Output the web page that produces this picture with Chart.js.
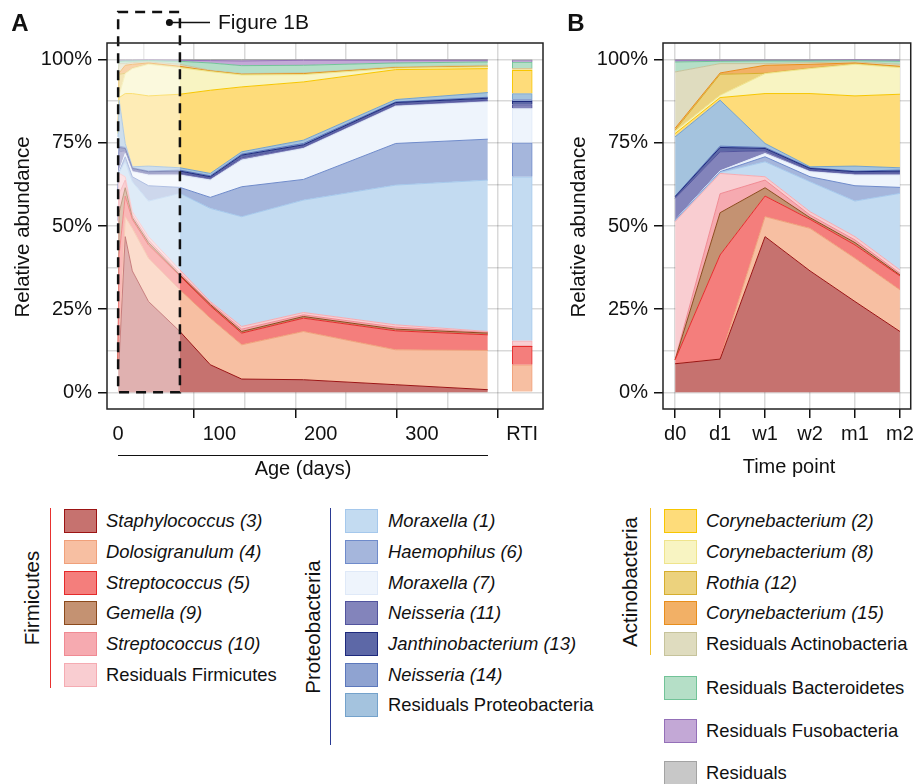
<!DOCTYPE html>
<html>
<head>
<meta charset="utf-8">
<script src="https://cdn.jsdelivr.net/npm/chart.js@4.4.1/dist/chart.umd.min.js"></script>
<style>
  body { margin: 0; background: #fff; font-family: "Liberation Sans", Arial, sans-serif; color: #111; }
  #wrap { position: relative; width: 918px; height: 784px; overflow: hidden; }
  canvas { position: absolute; top: 0; }
  .t { position: absolute; white-space: nowrap; font-size: 20px; line-height: 1; }
  .c { transform: translate(-50%, -50%); }
  .v { transform: translate(-50%, -50%) rotate(-90deg); }
  .sw { position: absolute; width: 33px; height: 24px; box-sizing: border-box; border: 1.5px solid; }
  .lg { position: absolute; font-size: 18.4px; line-height: 1; transform: translateY(-50%); white-space: nowrap; }
</style>
</head>
<body>
<div id="wrap">
  <canvas id="chartA" width="560" height="480" style="left:0"></canvas>
  <canvas id="chartB" width="358" height="480" style="left:560px"></canvas>
</div>
<script>
// sampling ages (days); d0..m2 of panel B are the first six samples
const ages = [0, 1, 7, 14, 30, 61, 91, 122, 183, 274, 365];
const timePoints = ['d0', 'd1', 'w1', 'w2', 'm1', 'm2'];
const rtiAge = 399;
const ageTicks = [0, 100, 200, 300];
const pctTicks = [0, 25, 50, 75, 100];

// relative abundance (%) per sample, bottom to top of the stack
const staphylococcus3   = [8.6, 10.0, 46.8, 36.5, 27.3, 18.3, 8.3, 4.0, 3.8, 2.3, 0.8];
const dolosigranulum4   = [0, 0, 6.0, 12.8, 13.0, 12.5, 14.0, 10.3, 14.5, 10.5, 11.8];
const streptococcus5    = [1.2, 31.3, 6.2, 2.7, 4.0, 4.2, 3.7, 3.5, 4.0, 5.7, 4.7];
const gemella9          = [0, 12.7, 2.5, 0.5, 0.7, 0.3, 0.4, 0.5, 0.5, 0.5, 0.5];
const streptococcus10   = [0.1, 5.7, 2.3, 0.8, 0.8, 0.5, 0.4, 0.7, 0.5, 0.6, 0.2];
const residFirmicutes   = [41.4, 6.1, 1.0, 1.0, 1.0, 1.0, 0.5, 0.8, 0.7, 0.7, 0.3];
const moraxella1        = [0.2, 0.3, 4.5, 9.0, 10.7, 23.0, 28.0, 33.0, 33.8, 42.0, 45.5];
const haemophilus6      = [0.2, 0.2, 1.5, 1.5, 4.6, 1.8, 3.3, 9.0, 6.2, 12.5, 12.3];
const moraxella7        = [0.1, 0.3, 1.0, 1.5, 3.2, 3.7, 5.2, 8.0, 9.3, 11.2, 11.2];
const neisseria11       = [6.5, 5.7, 0.8, 0.5, 0.5, 0.6, 0.5, 0.7, 0.5, 0.5, 0.5];
const janthinobacterium13 = [0.5, 1.3, 0.7, 0.5, 0.5, 0.6, 0.5, 0.8, 0.6, 0.6, 0.6];
const neisseria14       = [0.2, 0.4, 0.3, 0.2, 0.2, 0.3, 0.3, 0.3, 0.4, 0.2, 0.3];
const residProteo       = [17.8, 13.8, 1.2, 0.3, 1.5, 0.7, 0.7, 0.7, 1.0, 0.7, 1.4];
const corynebacterium2  = [1.0, 0.8, 15.0, 22.0, 21.1, 22.1, 25.0, 19.5, 17.5, 9.0, 7.2];
const corynebacterium8  = [0.7, 0.7, 6.0, 7.5, 9.5, 8.0, 5.6, 3.6, 2.2, 0.4, 0.5];
const rothia12          = [0.3, 6.3, 0.1, 0.1, 0.1, 0.1, 0.1, 0.1, 0.1, 0.1, 0.1];
const corynebacterium15 = [0.6, 0.4, 2.4, 1.2, 0.3, 0.3, 0.1, 0.1, 0.2, 0.1, 0.1];
const residActino       = [16.9, 2.8, 0.5, 0.5, 0.3, 0.6, 0.2, 0.2, 0.2, 0.2, 0.3];
const residBacteroidetes = [3.0, 0.7, 0.8, 0.5, 0.4, 0.9, 2.2, 2.4, 2.3, 1.2, 1.0];
const residFusobacteria = [0.5, 0.3, 0.2, 0.2, 0.2, 0.3, 0.7, 1.4, 1.5, 0.8, 0.5];
const residuals         = [0.2, 0.2, 0.2, 0.2, 0.1, 0.2, 0.3, 0.4, 0.2, 0.2, 0.2];

// RTI column, same series order
const rtiValues = [0, 8.3, 5.5, 0.1, 0.1, 1.5, 49.3, 10.2, 10.3, 1.2, 1.0, 0.5, 1.8, 7.0, 0.2, 0, 0.2, 0.1, 2.0, 0.4, 0.3];

const series = [
  { name: 'Staphylococcus (3)', values: staphylococcus3, fill: '#c6726f', line: '#9c1414', it: true },
  { name: 'Dolosigranulum (4)', values: dolosigranulum4, fill: '#f7bfa2', line: '#f0a07a', it: true },
  { name: 'Streptococcus (5)', values: streptococcus5, fill: '#f47e7c', line: '#e52b2b', it: true },
  { name: 'Gemella (9)', values: gemella9, fill: '#c49272', line: '#8c4a1c', it: true },
  { name: 'Streptococcus (10)', values: streptococcus10, fill: '#f6aab0', line: '#f08a93', it: true },
  { name: 'Residuals Firmicutes', values: residFirmicutes, fill: '#f9cdd1', line: '#f5abb2' },
  { name: 'Moraxella (1)', values: moraxella1, fill: '#c3dbf1', line: '#a5c8ec', it: true },
  { name: 'Haemophilus (6)', values: haemophilus6, fill: '#a5b6dc', line: '#6f8bcb', it: true },
  { name: 'Moraxella (7)', values: moraxella7, fill: '#eef4fc', line: '#dfe9f8', it: true },
  { name: 'Neisseria (11)', values: neisseria11, fill: '#8384bb', line: '#52549e', it: true },
  { name: 'Janthinobacterium (13)', values: janthinobacterium13, fill: '#5d68a7', line: '#1e2a7d', it: true },
  { name: 'Neisseria (14)', values: neisseria14, fill: '#8fa3d1', line: '#5c78bc', it: true },
  { name: 'Residuals Proteobacteria', values: residProteo, fill: '#a4c3de', line: '#74a2cb' },
  { name: 'Corynebacterium (2)', values: corynebacterium2, fill: '#fedc7a', line: '#f7c600', it: true },
  { name: 'Corynebacterium (8)', values: corynebacterium8, fill: '#f8f4c2', line: '#efe48c', it: true },
  { name: 'Rothia (12)', values: rothia12, fill: '#ecd27d', line: '#d6ae2e', it: true },
  { name: 'Corynebacterium (15)', values: corynebacterium15, fill: '#f2b066', line: '#e88e1c', it: true },
  { name: 'Residuals Actinobacteria', values: residActino, fill: '#dfdcbf', line: '#c6c39b' },
  { name: 'Residuals Bacteroidetes', values: residBacteroidetes, fill: '#b5dfc7', line: '#72c398' },
  { name: 'Residuals Fusobacteria', values: residFusobacteria, fill: '#c3a8d6', line: '#9470b8' },
  { name: 'Residuals', values: residuals, fill: '#c8c8c8', line: '#a3a3a3' }
];

const FONT = '"Liberation Sans", Arial, sans-serif';
const gridColor = 'rgba(0,0,0,0.15)';

function areaDatasets(xs) {
  return series.map((s, i) => ({
    type: 'line',
    label: s.name,
    data: xs.map((x, j) => ({ x: x, y: s.values[j] })),
    backgroundColor: s.fill,
    borderColor: s.line,
    borderWidth: 1,
    pointRadius: 0,
    tension: 0,
    fill: i === 0 ? 'origin' : '-1'
  }));
}

const frame = {
  id: 'frame',
  afterDraw(chart) {
    const a = chart.chartArea, ctx = chart.ctx;
    ctx.save();
    ctx.strokeStyle = '#222';
    ctx.lineWidth = 1.5;
    ctx.strokeRect(a.left, a.top, a.right - a.left, a.bottom - a.top);
    ctx.restore();
  }
};

// faded, dashed window over the first two months (shown in panel B)
const zoomBox = {
  id: 'zoomBox',
  afterDatasetsDraw(chart) {
    const x = chart.scales.x, y = chart.scales.y, ctx = chart.ctx;
    ctx.save();
    ctx.fillStyle = 'rgba(255,255,255,0.45)';
    ctx.fillRect(x.getPixelForValue(0), chart.chartArea.top, x.getPixelForValue(61) - x.getPixelForValue(0), y.getPixelForValue(0) - chart.chartArea.top);
    ctx.restore();
  },
  afterDraw(chart) {
    const x = chart.scales.x, y = chart.scales.y, ctx = chart.ctx;
    const x0 = x.getPixelForValue(0), x1 = x.getPixelForValue(61), yb = y.getPixelForValue(0);
    ctx.save();
    ctx.strokeStyle = '#111';
    ctx.lineWidth = 2.5;
    ctx.setLineDash([10, 7]);
    ctx.strokeRect(x0, 12, x1 - x0, yb - 12);
    ctx.setLineDash([]);
    ctx.lineWidth = 1.5;
    ctx.beginPath();
    ctx.moveTo(x1 - 10, 22.5);
    ctx.lineTo(210, 22.5);
    ctx.stroke();
    ctx.fillStyle = '#111';
    ctx.beginPath();
    ctx.arc(x1 - 10.5, 22.5, 3.5, 0, Math.PI * 2);
    ctx.fill();
    ctx.font = '21px ' + FONT;
    ctx.textBaseline = 'middle';
    ctx.fillText('Figure 1B', 218, 23);
    ctx.restore();
  }
};

function yScale(width) {
  return {
    stacked: true, min: -5, max: 105, z: 1,
    afterBuildTicks: s => { s.ticks = [0, 12.5, 25, 37.5, 50, 62.5, 75, 87.5, 100].map(v => ({ value: v })); },
    afterFit: s => { s.width = width; },
    ticks: {
      autoSkip: false, padding: 6, color: '#111',
      font: { size: 20, family: FONT },
      callback: v => pctTicks.includes(v) ? v + '%' : ''
    },
    grid: {
      color: gridColor, lineWidth: 1.5, tickLength: 9, tickWidth: 1.5,
      tickColor: c => (c.tick && pctTicks.includes(c.tick.value)) ? '#111' : 'rgba(0,0,0,0)'
    },
    border: { display: false }
  };
}

// panel A: age in days + RTI column
const rtiDatasets = series.map((s, i) => ({
  type: 'bar',
  label: s.name + ' RTI',
  stack: 'rti',
  data: [{ x: rtiAge, y: rtiValues[i] }],
  backgroundColor: s.fill,
  borderColor: s.line,
  borderWidth: 1,
  barThickness: 20
}));

new Chart(document.getElementById('chartA'), {
  type: 'line',
  data: { datasets: areaDatasets(ages).concat(rtiDatasets) },
  options: {
    responsive: false, animation: false,
    layout: { padding: { top: 43, right: 17, left: 0, bottom: 0 } },
    plugins: { legend: { display: false }, tooltip: { enabled: false } },
    scales: {
      x: {
        type: 'linear', min: -11, max: 419.5, offset: false, z: 1,
        afterBuildTicks: s => { s.ticks = [0, 50, 100, 150, 200, 250, 300, 350, rtiAge].map(v => ({ value: v })); },
        afterFit: s => { s.height = 71; },
        ticks: {
          autoSkip: false, maxRotation: 0, padding: 4, color: '#111',
          font: { size: 20, family: FONT },
          callback: v => v === rtiAge ? 'RTI' : (ageTicks.includes(v) ? String(v) : '')
        },
        grid: {
          color: gridColor, lineWidth: 1.5, tickLength: 9, tickWidth: 1.5,
          tickColor: c => (c.tick && (ageTicks.includes(c.tick.value) || c.tick.value === rtiAge)) ? '#111' : 'rgba(0,0,0,0)'
        },
        border: { display: false }
      },
      y: yScale(107)
    }
  },
  plugins: [zoomBox, frame]
});

// panel B: first two months by time point
new Chart(document.getElementById('chartB'), {
  type: 'line',
  data: { datasets: areaDatasets(timePoints.map((t, j) => j)) },
  options: {
    responsive: false, animation: false,
    layout: { padding: { top: 43, right: 4, left: 0, bottom: 0 } },
    plugins: { legend: { display: false }, tooltip: { enabled: false } },
    scales: {
      x: {
        type: 'linear', min: -0.27, max: 5.24, offset: false, z: 1,
        afterBuildTicks: s => { s.ticks = timePoints.map((t, j) => ({ value: j })); },
        afterFit: s => { s.height = 71; },
        ticks: {
          autoSkip: false, maxRotation: 0, padding: 4, color: '#111',
          font: { size: 20, family: FONT },
          callback: v => timePoints[v]
        },
        grid: { color: gridColor, lineWidth: 1.5, tickLength: 9, tickWidth: 1.5, tickColor: '#111' },
        border: { display: false }
      },
      y: yScale(103)
    }
  },
  plugins: [frame]
});

// text labels and legend
const wrap = document.getElementById('wrap');
function put(html, x, y, cls, style) {
  const d = document.createElement('div');
  d.className = 't ' + cls;
  d.style.left = x + 'px';
  d.style.top = y + 'px';
  if (style) d.style.cssText += style;
  d.innerHTML = html;
  wrap.appendChild(d);
  return d;
}
put('A', 20, 23, 'c', 'font-weight:bold;font-size:24px');
put('B', 576, 23, 'c', 'font-weight:bold;font-size:24px');
put('Relative abundance', 22, 227, 'v', 'font-size:20.5px');
put('Relative abundance', 578, 227, 'v', 'font-size:20.5px');
put('Age (days)', 303, 468, 'c');
put('Time point', 789, 466, 'c');
put('', 118, 455, '', 'width:370px;border-top:1.5px solid #111');

const groups = [
  { title: 'Firmicutes', items: [0, 1, 2, 3, 4, 5], sx: 64, tx: 106, lx: 50, color: '#e8312f', lineTop: 508, lineBot: 688, titleY: 598, titleX: 32 },
  { title: 'Proteobacteria', items: [6, 7, 8, 9, 10, 11, 12], sx: 345, tx: 388, lx: 330, color: '#2a3a94', lineTop: 508, lineBot: 745, titleY: 627, titleX: 313 },
  { title: 'Actinobacteria', items: [13, 14, 15, 16, 17], sx: 664, tx: 706, lx: 650, color: '#f2c230', lineTop: 508, lineBot: 655, titleY: 582, titleX: 630 }
];
const rowY = [521, 552, 582.5, 613, 643.5, 674.5, 705];
function legendRow(i, y, sx, tx) {
  const s = series[i];
  const sw = document.createElement('div');
  sw.className = 'sw';
  sw.style.left = sx + 'px';
  sw.style.top = (y - 12) + 'px';
  sw.style.background = s.fill;
  sw.style.borderColor = s.line;
  wrap.appendChild(sw);
  const t = document.createElement('div');
  t.className = 'lg';
  t.style.left = tx + 'px';
  t.style.top = y + 'px';
  if (s.it) t.style.fontStyle = 'italic';
  t.textContent = s.name;
  wrap.appendChild(t);
}
groups.forEach(g => {
  g.items.forEach((i, k) => legendRow(i, rowY[k], g.sx, g.tx));
  put('', g.lx, g.lineTop, '', 'width:0;height:' + (g.lineBot - g.lineTop) + 'px;border-left:1.5px solid ' + g.color);
  put(g.title, g.titleX, g.titleY, 'v', 'font-size:20.5px');
});
legendRow(18, 688, 664, 706);
legendRow(19, 731, 664, 706);
legendRow(20, 773, 664, 706);
</script>
</body>
</html>
